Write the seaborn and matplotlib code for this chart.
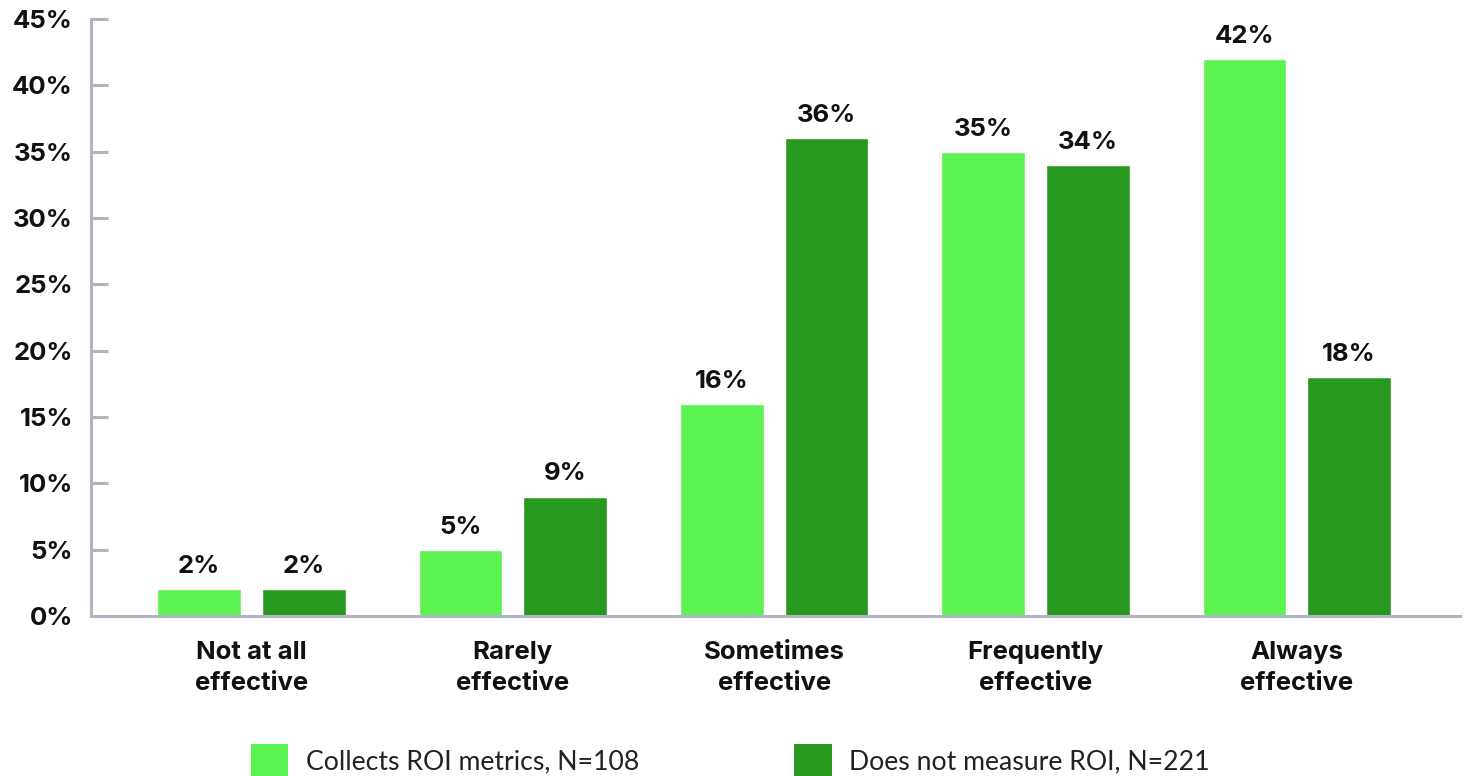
import matplotlib
matplotlib.use("Agg")
import matplotlib.pyplot as plt
import seaborn as sns
import pandas as pd
from matplotlib.patches import Patch

categories = ["Not at all\neffective", "Rarely\neffective", "Sometimes\neffective",
              "Frequently\neffective", "Always\neffective"]
series_names = ["Collects ROI metrics, N=108", "Does not measure ROI, N=221"]
collects_roi = [2, 5, 16, 35, 42]
no_roi = [2, 9, 36, 34, 18]
y_ticks = [0, 5, 10, 15, 20, 25, 30, 35, 40, 45]

colors = ["#5CF352", "#27991F"]
axis_color = "#B1B5BF"
text_color = "#111111"

sns.set_theme(style="white")
plt.rcParams["font.family"] = ["Inter", "DejaVu Sans"]

df = pd.DataFrame({
    "category": categories * 2,
    "series": [series_names[0]] * len(categories) + [series_names[1]] * len(categories),
    "value": collects_roi + no_roi,
})

fig = plt.figure(figsize=(14.67, 7.76), dpi=100)
ax = fig.add_axes([91 / 1467, 1 - 616 / 776, (1460 - 91) / 1467, (616 - 19) / 776])

sns.barplot(data=df, x="category", y="value", hue="series", order=categories,
            hue_order=series_names, palette=colors, width=0.8, gap=0.2,
            saturation=1, legend=False, ax=ax)

for container in ax.containers:
    ax.bar_label(container, labels=[f"{v:.0f}%" for v in container.datavalues],
                 padding=8, fontsize=18.5, fontweight="bold", color=text_color)

ax.set_xlim(-0.614, 4.624)
ax.set_ylim(0, 45)
ax.set_yticks(y_ticks)
ax.set_yticklabels([f"{t}%" for t in y_ticks], fontsize=18.5, fontweight="bold", color=text_color)
ax.set_xticklabels(categories, fontsize=18.5, fontweight="bold", color=text_color, linespacing=1.45)
ax.set_xlabel("")
ax.set_ylabel("")

for side in ["top", "right"]:
    ax.spines[side].set_visible(False)
for side in ["left", "bottom"]:
    ax.spines[side].set_color(axis_color)
    ax.spines[side].set_linewidth(2.2)

ax.tick_params(axis="y", direction="in", length=12, width=2.2, color=axis_color, pad=13, left=True)
ax.tick_params(axis="x", length=0, pad=18)

handles = [Patch(facecolor=c, edgecolor="none") for c in colors]
fig.legend(handles, series_names, loc="center", bbox_to_anchor=(730 / 1467, 1 - 760 / 776),
           ncol=2, frameon=False, prop={"family": "Lato", "weight": "normal", "size": 19.2},
           handlelength=1.42, handleheight=1.42, handletextpad=0.65, columnspacing=5.8,
           labelcolor="#222222")

fig.savefig("out.png", dpi=100)
